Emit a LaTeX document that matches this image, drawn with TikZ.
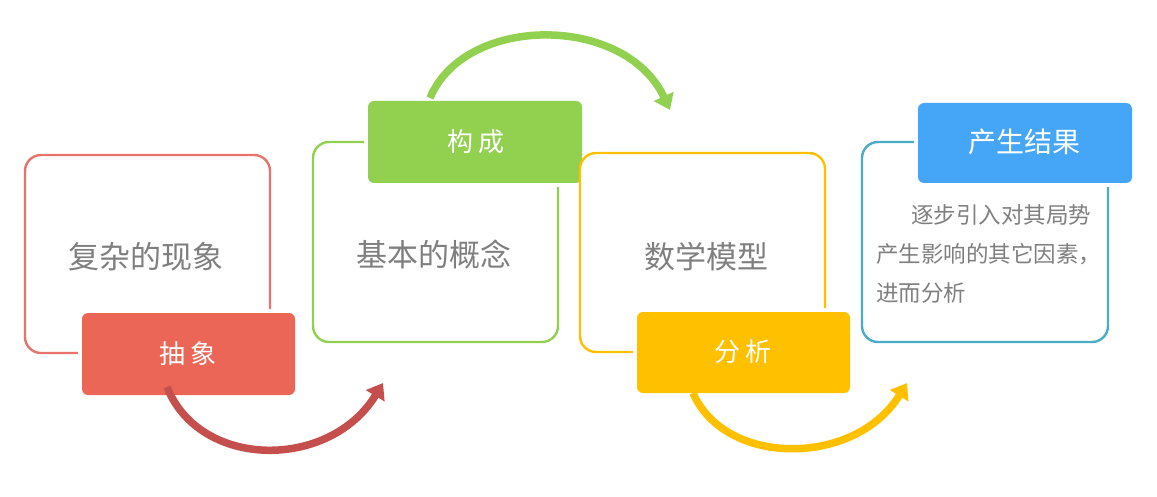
\documentclass[tikz,border=0pt]{standalone}
\usepackage{fontspec}
\setmainfont{Noto Sans CJK SC}
\usetikzlibrary{arrows.meta}
\definecolor{redline}{HTML}{E8736B}
\definecolor{redfill}{HTML}{EB6657}
\definecolor{redarrow}{HTML}{C44F4C}
\definecolor{greenc}{HTML}{92D050}
\definecolor{yellowc}{HTML}{FFC000}
\definecolor{blueline}{HTML}{4BACC6}
\definecolor{bluefill}{HTML}{45A6F7}
\definecolor{txtgray}{HTML}{7F7F7F}
\tikzset{
  outline/.style={draw=#1, line width=2.4pt, rounded corners=16pt, fill=white},
  tagbox/.style={fill=#1, rounded corners=6pt, preaction={draw=white, line width=8pt, rounded corners=6pt}},
  maintext/.style={text=txtgray, font=\fontsize{31}{34}\selectfont},
  tagtext/.style={text=white, font=\fontsize{26}{29}\selectfont},
  flow/.style={draw=#1, line width=7.5pt, -{Triangle[length=15pt,width=21pt]}},
}
\begin{document}
\begin{tikzpicture}[x=1pt,y=-1pt]
\useasboundingbox (0,0) rectangle (1157,497);
% boxes
\draw[outline=redline] (25,155) rectangle (270,353);
\node[maintext] (t1) at (146,257) {复杂的现象};
\path[tagbox=redfill] (82,313) rectangle (295,395);
\node[tagtext] (l1) at (188,354) {抽\hspace{6pt}象};

\draw[outline=greenc] (313,142) rectangle (558,342);
\node[maintext] (t2) at (434,255) {基本的概念};
\path[tagbox=greenc] (368,101) rectangle (582,183);
\node[tagtext] (l2) at (476,142) {构\hspace{6pt}成};

\draw[outline=yellowc] (580,153) rectangle (825,352);
\node[maintext] (t3) at (706,257) {数学模型};
\path[tagbox=yellowc] (637,312) rectangle (850,393);
\node[tagtext] (l3) at (743,352) {分\hspace{6pt}析};

\draw[outline=blueline] (862,142) rectangle (1108,342);
\path[tagbox=bluefill] (918,103) rectangle (1132,183);
\node[tagtext, font=\fontsize{28}{31}\selectfont] (l4) at (1024,142) {产生结果};
\node[text=txtgray, font=\fontsize{22.5}{39}\selectfont, anchor=north west, align=left, inner sep=0pt] (t4) at (876,204)
  {\hspace{35pt}逐步引入对其局势\\产生影响的其它因素，\\进而分析};

% arrows
\coordinate (a1s) at (167,387); \coordinate (a1e) at (383,383);
\coordinate (a2s) at (430,98);  \coordinate (a2e) at (670,110);
\coordinate (a3s) at (693,393); \coordinate (a3e) at (907,383);
\draw[flow=redarrow] (a1s) .. controls (200,470) and (330,470) .. (a1e);
\draw[flow=greenc] (a2s) .. controls (465,14) and (625,14) .. (a2e);
\draw[flow=yellowc] (a3s) .. controls (725,467) and (855,467) .. (a3e);
\end{tikzpicture}
\end{document}
